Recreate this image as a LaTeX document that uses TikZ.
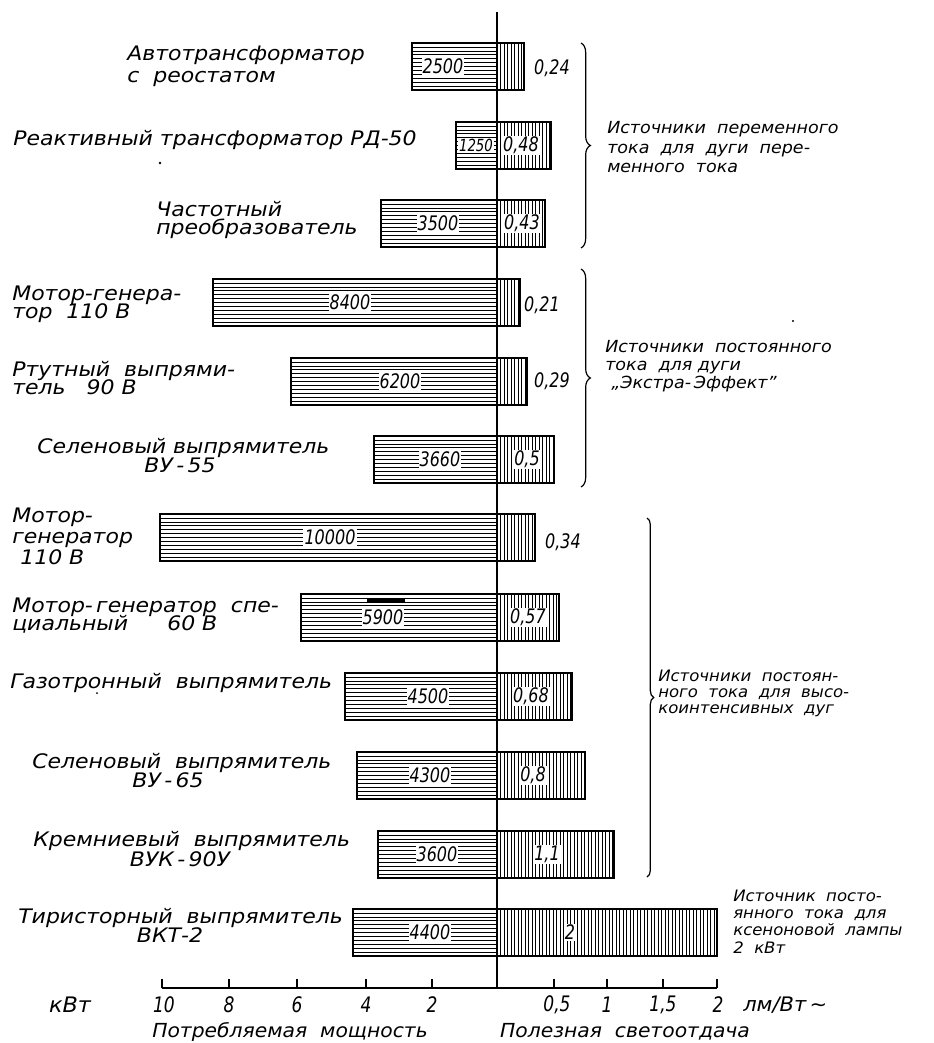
\documentclass[tikz,border=0pt]{standalone}
\usepackage{fontspec}
\setmainfont{DejaVu Sans}
\newfontfamily\df{DejaVu Sans}[FakeStretch=1.1]
\newfontfamily\dg{DejaVu Sans}[FakeStretch=1.05]
\newfontfamily\dn{DejaVu Sans}[FakeStretch=0.8]
\usetikzlibrary{decorations.pathreplacing}
\tikzset{
  lbl/.style={font=\df\itshape\fontsize{15}{16}\selectfont, inner sep=0pt, anchor=base west},
  lblc/.style={font=\df\itshape\fontsize{15}{16}\selectfont, inner sep=0pt, anchor=base},
  glbl/.style={font=\dg\itshape\fontsize{12.5}{13}\selectfont, inner sep=0pt, anchor=base west},
  glbls/.style={font=\dg\itshape\fontsize{11.8}{12}\selectfont, inner sep=0pt, anchor=base west},
  nlbl/.style={font=\dn\itshape\fontsize{15}{15}\selectfont, fill=white, inner sep=0.8pt},
  vlbl/.style={font=\dn\itshape\fontsize{15}{15}\selectfont, inner sep=0pt},
  alb/.style={font=\dn\itshape\fontsize{16}{16}\selectfont, inner sep=0pt},
  ttl/.style={font=\dg\itshape\fontsize{14.5}{15}\selectfont, inner sep=0pt},
  hatch/.style={line width=0.45pt},
  barline/.style={line width=2pt},
  axisline/.style={line width=1.3pt},
  bracestyle/.style={line width=0.9pt, decorate, decoration={brace, amplitude=7pt}},
  bracesmall/.style={line width=0.9pt, decorate, decoration={brace, amplitude=5pt}}
}
\newcommand\mybar[3]{% #1 top, #2 left x, #3 right x
  \pgfmathsetmacro\bb{#1+47}
  \begin{scope}
    \clip (#2,#1) rectangle (#3,\bb);
    \foreach \k in {1,...,11} \draw[hatch] (#2,{#1+\k*3.92}) -- (497,{#1+\k*3.92});
    \foreach \xx in {500.5,504,...,#3} \draw[hatch] (\xx,#1) -- (\xx,\bb);
  \end{scope}
  \draw[barline] (#2,#1) rectangle (#3,\bb);
}
\begin{document}
\begin{tikzpicture}[x=0.75pt,y=-0.75pt]
\useasboundingbox (0,0) rectangle (933,1043);

% bars
\mybar{43}{412}{524}
\mybar{122}{456}{551}
\mybar{200}{381}{545}
\mybar{279}{213}{520}
\mybar{358}{291}{527}
\mybar{436}{374}{554}
\mybar{514}{160}{535}
\mybar{594}{301}{559}
\mybar{673}{345}{572}
\mybar{752}{357}{585}
\mybar{831}{378}{614}
\mybar{909}{353}{717}
\draw[line width=2.5pt] (367,601) -- (405,601);

% axes
\draw[axisline] (497,12) -- (497,988);
\draw[axisline] (162,988) -- (717,988);
\foreach \x in {162,229,297,366,432,554,607,663,717} \draw[axisline] (\x,988) -- (\x,979);

% numbers in bars
\node[nlbl] (n1) at (443,66.5) {2500};
\node[nlbl, font=\dn\itshape\fontsize{12.5}{12}\selectfont, inner sep=0.5pt] (n2) at (476,145.5) {1250};
\node[nlbl] (n3) at (438,223.5) {3500};
\node[nlbl] (n4) at (350,302.5) {8400};
\node[nlbl] (n5) at (400,381.5) {6200};
\node[nlbl] (n6) at (440,459.5) {3660};
\node[nlbl] (n7) at (330,537.5) {10000};
\node[nlbl] (n8) at (383,617.5) {5900};
\node[nlbl] (n9) at (428,696.5) {4500};
\node[nlbl] (n10) at (430,775.5) {4300};
\node[nlbl] (n11) at (437,854.5) {3600};
\node[nlbl] (n12) at (430,932.5) {4400};

\node[nlbl] (r2) at (521,145.5) {0,48};
\node[nlbl] (r3) at (522,223.5) {0,43};
\node[nlbl] (r6) at (527,459.5) {0,5};
\node[nlbl] (r8) at (528,617.5) {0,57};
\node[nlbl] (r9) at (531,696.5) {0,68};
\node[nlbl] (r10) at (533,775.5) {0,8};
\node[nlbl] (r11) at (547,854.5) {1,1};
\node[nlbl] (r12) at (570,932.5) {2};

\node[vlbl] (v1) at (552,68) {0,24};
\node[vlbl] (v4) at (542,305) {0,21};
\node[vlbl] (v5) at (552,381) {0,29};
\node[vlbl] (v7) at (563,542) {0,34};

% left labels
\node[lbl] (l1a) at (127,60) {Автотрансформатор};
\node[lbl] (l1b) at (127,82) {с\ \ реостатом};
\node[lbl] (l2) at (13,145) {Реактивный трансформатор РД-50};
\node[lbl] (l3a) at (156,216) {Частотный};
\node[lbl] (l3b) at (156,234) {преобразователь};
\node[lbl] (l4a) at (12,300) {Мотор-генера-};
\node[lbl] (l4b) at (12,318) {тор\ \ 110 В};
\node[lbl] (l5a) at (12,376) {Ртутный\ \ выпрями-};
\node[lbl] (l5b) at (12,394) {тель\ \ \ 90 В};
\node[lbl] (l6a) at (37,453) {Селеновый выпрямитель};
\node[lblc] (l6b) at (180,472) {ВУ\,-\,55};
\node[lbl] (l7a) at (12,522) {Мотор-};
\node[lbl] (l7b) at (12,543) {генератор};
\node[lbl] (l7c) at (20,564) {110 В};
\node[lbl] (l8a) at (12,612) {Мотор-\,генератор\ \ спе-};
\node[lbl] (l8b) at (12,630) {циальный};
\node[lbl] (l8c) at (167,630) {60 В};
\node[lbl] (l9) at (10,688) {Газотронный\ \ выпрямитель};
\node[lbl] (l10a) at (32,768) {Селеновый\ \ выпрямитель};
\node[lblc] (l10b) at (168,787) {ВУ\,-\,65};
\node[lbl] (l11a) at (33,846) {Кремниевый\ \ выпрямитель};
\node[lblc] (l11b) at (180,866) {ВУК\,-\,90У};
\node[lbl] (l12a) at (18,923) {Тиристорный\ \ выпрямитель};
\node[lblc] (l12b) at (170,942) {ВКТ-2};

% stray marks
\fill (160,163) circle (1.3);
\fill (793,321) circle (1.1);
\fill (97,693) circle (1.0);

% braces
\draw[bracestyle] (581,43) -- (581,248);
\draw[bracestyle] (581,269) -- (581,487);
\draw[bracesmall] (647,518) -- (647,877);

% group labels
\node[glbl] (g1a) at (607,133) {Источники\ \ переменного};
\node[glbl] (g1b) at (607,153) {тока\ \ для\ \ дуги\ \ пере-};
\node[glbl] (g1c) at (607,172) {менного\ \ тока};
\node[glbl] (g2a) at (605,352) {Источники\ \ постоянного};
\node[glbl] (g2b) at (605,370) {тока\ \ для\ дуги};
\node[glbl] (g2c) at (611,388) {„Экстра-\,Эффект”};
\node[glbls] (g3a) at (658,681) {Источники\ \ постоян-};
\node[glbls] (g3b) at (658,697) {ного\ \ тока\ \ для\ \ высо-};
\node[glbls] (g3c) at (658,713) {коинтенсивных\ \ дуг};
\node[glbls] (g4a) at (733,901) {Источник\ \ посто-};
\node[glbls] (g4b) at (733,918) {янного\ \ тока\ \ для};
\node[glbls] (g4c) at (733,935) {ксеноновой\ \ лампы};
\node[glbls] (g4d) at (733,953) {2\ \ кВт};

% axis labels
\node[alb, font=\dg\itshape\fontsize{16}{16}\selectfont] (ak) at (70,1005) {кВт};
\node[alb] (a10) at (164,1005) {10};
\node[alb] (a8) at (229,1005) {8};
\node[alb] (a6) at (297,1005) {6};
\node[alb] (a4) at (366,1005) {4};
\node[alb] (a2) at (432,1005) {2};
\node[alb] (b05) at (557,1005) {0,5};
\node[alb] (b1) at (607,1005) {1};
\node[alb] (b15) at (663,1005) {1,5};
\node[alb] (b2) at (718,1005) {2};
\node[alb, anchor=west, font=\dg\itshape\fontsize{15}{16}\selectfont] (bu) at (743,1005) {лм/Вт\,\textasciitilde};
\node[ttl] (t1) at (290,1032) {Потребляемая\ \ мощность};
\node[ttl] (t2) at (625,1032) {Полезная\ \ светоотдача};
\end{tikzpicture}
\end{document}
